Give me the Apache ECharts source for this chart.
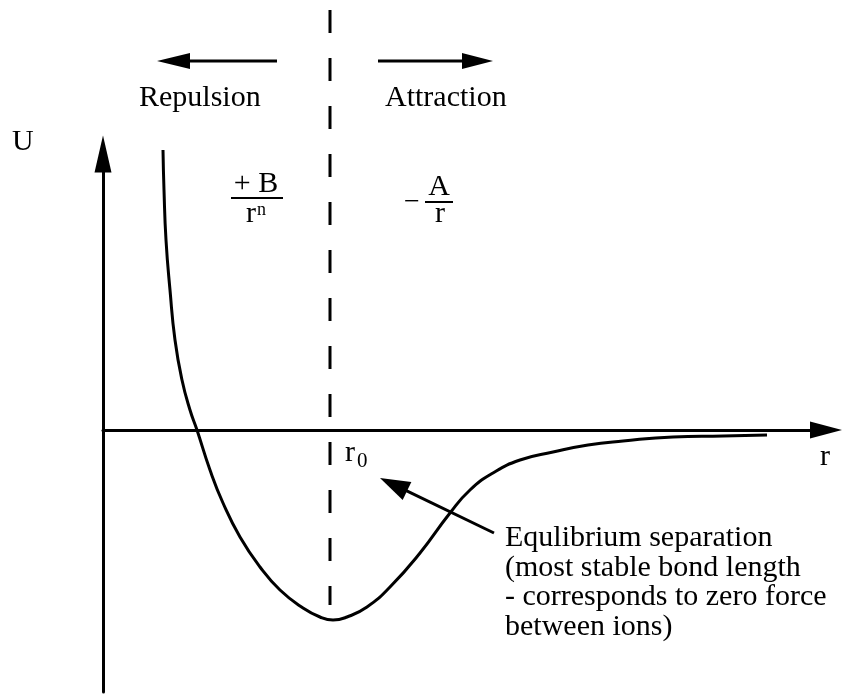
<!DOCTYPE html>
<html>
<head>
<meta charset="utf-8">
<script src="https://cdn.jsdelivr.net/npm/echarts@6/dist/echarts.min.js"></script>
<style>
  html, body { margin: 0; padding: 0; background: #fff; }
  #chart { width: 850px; height: 697px; }
</style>
</head>
<body>
<div id="chart"></div>
<script>
// potential energy curve U(r)
const rVals = [0.60, 0.61, 0.63, 0.67, 0.72, 0.79, 0.87, 0.94, 1.07, 1.20, 1.37, 1.57, 1.77, 2.00, 2.17,
  2.30, 2.44, 2.64, 2.87, 3.17, 3.47, 3.67, 3.90, 4.17, 4.50, 4.85, 5.20, 5.70, 6.20, 6.64];
const uVals = [2.80, 2.40, 1.90, 1.40, 0.90, 0.50, 0.20, 0.00, -0.40, -0.73, -1.07, -1.37, -1.60, -1.78, -1.87,
  -1.90, -1.87, -1.77, -1.57, -1.23, -0.83, -0.60, -0.43, -0.30, -0.22, -0.15, -0.11, -0.07, -0.06, -0.05];

// equilibrium separation r0 (dashed divider)
const r0 = 2.27;
const dividerU = [4.2, -1.75];

const noteLines = [
  'Equlibrium separation',
  '(most stable bond length',
  '- corresponds to zero force',
  'between ions)'
];

const FONT = '"Liberation Serif", "Times New Roman", serif';

function txt(text, x, y, size, align) {
  return {
    type: 'text',
    style: {
      text: text, x: x, y: y,
      font: size + 'px ' + FONT,
      fill: '#000',
      align: align || 'left',
      verticalAlign: 'middle'
    }
  };
}

// arrow from (x1,y1) to tip (x2,y2)
function arrow(x1, y1, x2, y2, headLen, headW) {
  const dx = x2 - x1, dy = y2 - y1;
  const len = Math.sqrt(dx * dx + dy * dy);
  const ux = dx / len, uy = dy / len;
  const bx = x2 - ux * headLen, by = y2 - uy * headLen;
  return [
    {
      type: 'line',
      shape: { x1: x1, y1: y1, x2: bx + ux * 2, y2: by + uy * 2 },
      style: { stroke: '#000', lineWidth: 3 }
    },
    {
      type: 'polygon',
      shape: { points: [[x2, y2], [bx - uy * headW, by + ux * headW], [bx + uy * headW, by - ux * headW]] },
      style: { fill: '#000' }
    }
  ];
}

const chart = echarts.init(document.getElementById('chart'));

const graphics = [].concat(
  arrow(277, 61, 157, 61, 33, 8),
  arrow(378, 61, 493, 61, 31, 8),
  arrow(494, 533, 380, 478, 30, 10),
  [
    txt('U', 12, 142, 30),
    txt('Repulsion', 139, 98, 30),
    txt('Attraction', 385, 98, 30),
    txt('+ B', 256, 184, 30, 'center'),
    { type: 'line', shape: { x1: 231, y1: 198, x2: 283, y2: 198 }, style: { stroke: '#000', lineWidth: 2 } },
    txt('r', 246, 214, 30),
    txt('n', 257, 210, 18),
    txt('\u2212', 412, 203, 28, 'center'),
    txt('A', 439, 187, 30, 'center'),
    { type: 'line', shape: { x1: 425, y1: 202, x2: 453, y2: 202 }, style: { stroke: '#000', lineWidth: 2 } },
    txt('r', 440, 214, 30, 'center'),
    txt('r', 345, 453, 30),
    txt('0', 357, 461, 21),
    txt('r', 820, 457, 30)
  ],
  noteLines.map(function (line, i) {
    return txt(line, 505, 538 + i * 29.7, 30);
  })
);

const option = {
  animation: false,
  backgroundColor: '#fff',
  grid: { left: 103, right: 24, top: 154, bottom: 5 },
  xAxis: {
    type: 'value',
    min: 0,
    max: 7.23,
    axisLine: {
      show: true,
      symbol: ['none', 'triangle'],
      symbolSize: [17, 32],
      lineStyle: { color: '#000', width: 3 }
    },
    axisTick: { show: false },
    axisLabel: { show: false },
    splitLine: { show: false }
  },
  yAxis: {
    type: 'value',
    min: -2.62,
    max: 2.76,
    axisLine: {
      show: true,
      symbol: ['none', 'triangle'],
      symbolSize: [17, 37],
      lineStyle: { color: '#000', width: 3 }
    },
    axisTick: { show: false },
    axisLabel: { show: false },
    splitLine: { show: false }
  },
  series: [
    {
      type: 'line',
      data: rVals.map(function (r, i) { return [r, uVals[i]]; }),
      smooth: 0.5,
      showSymbol: false,
      clip: false,
      lineStyle: { color: '#000', width: 3 }
    },
    {
      type: 'line',
      data: dividerU.map(function (u) { return [r0, u]; }),
      showSymbol: false,
      clip: false,
      lineStyle: { color: '#000', width: 3, type: [23, 25] }
    }
  ],
  graphic: graphics
};

chart.setOption(option);
</script>
</body>
</html>
